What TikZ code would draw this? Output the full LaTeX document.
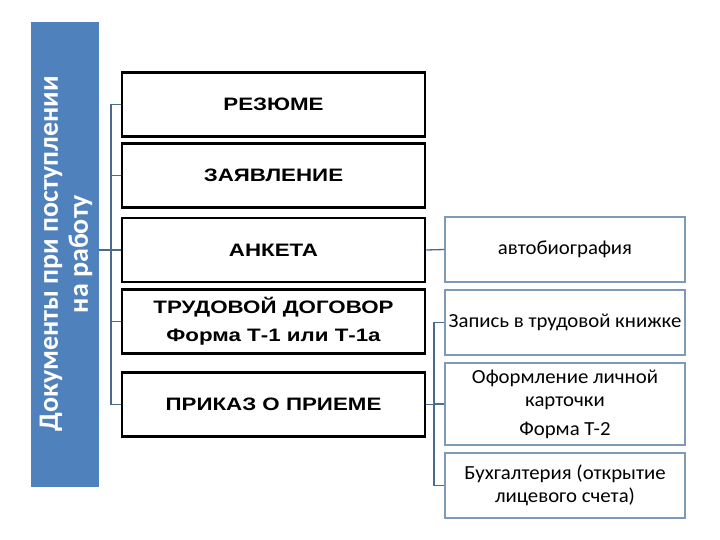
\documentclass[tikz,border=0pt]{standalone}
\usepackage{fontspec}
\setmainfont{Liberation Sans}
\newfontfamily\widefont[FakeStretch=1.24]{Liberation Sans}
\newfontfamily\calib[FakeStretch=1.04]{Carlito}
\newfontfamily\calibb{Carlito}
\definecolor{bluefill}{HTML}{4F81BD}
\definecolor{connc}{HTML}{4A6A90}
\definecolor{rbox}{HTML}{7F9AB8}
\begin{document}
\begin{tikzpicture}[x=1pt,y=-1pt,
  bbox/.style={draw=black,line width=2.5pt,fill=white,minimum width=303pt,minimum height=64pt,
    inner sep=0pt,align=center,font=\widefont\bfseries\fontsize{18}{28}\selectfont},
  rbx/.style={draw=rbox,line width=1.3pt,fill=white,minimum width=240pt,minimum height=65pt,
    inner sep=0pt,align=center,font=\calib\fontsize{20}{23}\selectfont},
  conn/.style={draw=connc,line width=1.3pt}]
\useasboundingbox (0,0) rectangle (720,540);
\fill[white] (0,0) rectangle (720,540);
\node[fill=bluefill,minimum width=68pt,minimum height=465pt,inner sep=0pt] (blue) at (65,254.5) {};
\node[rotate=90,text=white,align=center,font=\calibb\bfseries\fontsize{28}{30}\selectfont] (bt) at (66,254)
  {Документы при поступлении\\на работу};
\node[bbox] (b1) at (273.5,104.5) {РЕЗЮМЕ};
\node[bbox] (b2) at (273.5,175.5) {ЗАЯВЛЕНИЕ};
\node[bbox] (b3) at (273.5,250) {АНКЕТА};
\node[bbox] (b4) at (273.5,321.5) {ТРУДОВОЙ ДОГОВОР\\Форма Т-1 или Т-1а};
\node[bbox] (b5) at (273.5,404.5) {ПРИКАЗ О ПРИЕМЕ};
\node[rbx] (r1) at (565,249.5) {автобиография};
\node[rbx] (r2) at (565,322.5) {Запись в трудовой книжке};
\node[rbx,minimum height=82pt] (r3) at (565,404) {Оформление личной\\карточки\\[6pt]Форма Т-2};
\node[rbx] (r4) at (565,485.5) {Бухгалтерия (открытие\\лицевого счета)};
\coordinate (lx) at (111,0);
\coordinate (rx) at (434,0);
\draw[conn] (b1.west) -- (b1.west -| lx) -- (b5.west -| lx) -- (b5.west);
\draw[conn] (b2.west) -- (b2.west -| lx);
\draw[conn] (b3.west) -- (b3.west -| blue.east);
\draw[conn] (b4.west) -- (b4.west -| lx);
\draw[conn] (b3.east) -- (r1.west);
\draw[conn] (b5.east) -- (b5.east -| rx);
\draw[conn] (r2.west) -- (r2.west -| rx) -- (r4.west -| rx) -- (r4.west);
\draw[conn] (r3.west) -- (r3.west -| rx);
\end{tikzpicture}
\end{document}
